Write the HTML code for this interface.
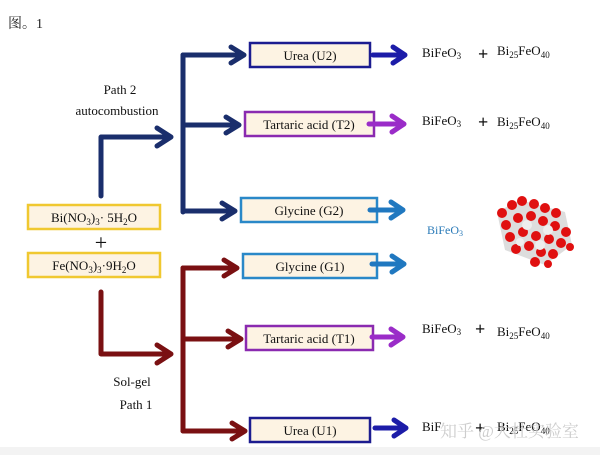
<!DOCTYPE html>
<html><head><meta charset="utf-8"><style>
html,body{margin:0;padding:0;background:#fff;}
svg{display:block;}
text{font-family:"Liberation Serif","Noto Serif CJK SC",serif;}
</style></head><body>
<svg width="600" height="455" viewBox="0 0 600 455" xmlns="http://www.w3.org/2000/svg">
<rect x="0" y="0" width="600" height="455" fill="#fff"/>
<rect x="0" y="447" width="600" height="8" fill="#f3f3f3"/>
<text x="8" y="28" font-size="14" fill="#222" font-family="Liberation Serif,Noto Serif CJK SC,serif">图。1</text>

<!-- source boxes -->
<rect x="28" y="205" width="132" height="24" fill="#fdf3e3" stroke="#f0c830" stroke-width="2.5"/>
<text x="94" y="222" font-size="13" text-anchor="middle" fill="#111">Bi(NO<tspan font-size="9" dy="3">3</tspan><tspan dy="-3">)</tspan><tspan font-size="9" dy="3">3</tspan><tspan dy="-3">· 5H</tspan><tspan font-size="9" dy="3">2</tspan><tspan dy="-3">O</tspan></text>
<text x="101" y="250" font-size="22" text-anchor="middle" fill="#111" font-family="Liberation Sans,sans-serif">+</text>
<rect x="28" y="253" width="132" height="24" fill="#fdf3e3" stroke="#f0c830" stroke-width="2.5"/>
<text x="94" y="270" font-size="13" text-anchor="middle" fill="#111">Fe(NO<tspan font-size="9" dy="3">3</tspan><tspan dy="-3">)</tspan><tspan font-size="9" dy="3">3</tspan><tspan dy="-3">·9H</tspan><tspan font-size="9" dy="3">2</tspan><tspan dy="-3">O</tspan></text>

<!-- blue path -->
<g stroke="#1a2e6c" stroke-width="5" fill="none" stroke-linejoin="round" stroke-linecap="round">
<polyline points="101,196 101,137 170,137"/>
<polyline points="157,128 171,137 157,146"/>
<line x1="183" y1="55" x2="183" y2="212"/>
<line x1="183" y1="55" x2="243" y2="55"/>
<polyline points="231,47 244,55 231,63"/>
<line x1="183" y1="125" x2="238" y2="125"/>
<polyline points="226,117 239,125 226,133"/>
<line x1="183" y1="211" x2="234" y2="211"/>
<polyline points="222,203 235,211 222,219"/>
</g>
<!-- red path -->
<g stroke="#7a1012" stroke-width="5" fill="none" stroke-linejoin="round" stroke-linecap="round">
<polyline points="101,292 101,354 170,354"/>
<polyline points="157,345 171,354 157,363"/>
<line x1="183" y1="268" x2="183" y2="431"/>
<line x1="183" y1="268" x2="236" y2="268"/>
<polyline points="224,260 237,268 224,276"/>
<line x1="183" y1="339" x2="240" y2="339"/>
<polyline points="228,331 241,339 228,347"/>
<line x1="183" y1="431" x2="244" y2="431"/>
<polyline points="232,423 245,431 232,439"/>
</g>

<text x="120" y="94" font-size="13" text-anchor="middle" fill="#111">Path 2</text>
<text x="117" y="115" font-size="13" text-anchor="middle" fill="#111">autocombustion</text>
<text x="132" y="386" font-size="13" text-anchor="middle" fill="#111">Sol-gel</text>
<text x="136" y="409" font-size="13" text-anchor="middle" fill="#111">Path 1</text>

<!-- middle boxes -->
<g font-size="13" fill="#111" text-anchor="middle">
<rect x="250" y="43" width="120" height="24" fill="#fdf3e3" stroke="#1c1c90" stroke-width="2.5"/>
<text x="310" y="60">Urea (U2)</text>
<rect x="245" y="112" width="129" height="24" fill="#fdf3e3" stroke="#8a2ab0" stroke-width="2.5"/>
<text x="309" y="129">Tartaric acid (T2)</text>
<rect x="241" y="198" width="136" height="24" fill="#fdf3e3" stroke="#2a88c8" stroke-width="2.5"/>
<text x="309" y="215">Glycine (G2)</text>
<rect x="243" y="254" width="134" height="24" fill="#fdf3e3" stroke="#2a88c8" stroke-width="2.5"/>
<text x="310" y="271">Glycine (G1)</text>
<rect x="246" y="326" width="127" height="24" fill="#fdf3e3" stroke="#8a2ab0" stroke-width="2.5"/>
<text x="309" y="343">Tartaric acid (T1)</text>
<rect x="250" y="418" width="120" height="24" fill="#fdf3e3" stroke="#1c1c90" stroke-width="2.5"/>
<text x="310" y="435">Urea (U1)</text>
</g>

<!-- right arrows -->
<g stroke-width="5" fill="none" stroke-linejoin="round" stroke-linecap="round">
<g stroke="#1c1ca8"><line x1="373" y1="55" x2="404" y2="55"/><polyline points="393,47 405,55 393,63"/></g>
<g stroke="#9a2cc8"><line x1="369" y1="124" x2="403" y2="124"/><polyline points="392,116 404,124 392,132"/></g>
<g stroke="#2078c0"><line x1="370" y1="210" x2="402" y2="210"/><polyline points="391,202 403,210 391,218"/></g>
<g stroke="#2078c0"><line x1="372" y1="264" x2="403" y2="264"/><polyline points="392,256 404,264 392,272"/></g>
<g stroke="#9a2cc8"><line x1="372" y1="337" x2="402" y2="337"/><polyline points="391,329 403,337 391,345"/></g>
<g stroke="#1c1ca8"><line x1="375" y1="428" x2="405" y2="428"/><polyline points="394,420 406,428 394,436"/></g>
</g>

<!-- products -->
<g font-size="13" fill="#111">
<text x="422" y="57">BiFeO<tspan font-size="9" dy="2">3</tspan></text>
<text x="478" y="60" font-size="18" font-family="Liberation Sans,sans-serif" font-weight="bold">+</text>
<text x="497" y="55">Bi<tspan font-size="9" dy="3">25</tspan><tspan dy="-3">FeO</tspan><tspan font-size="9" dy="3">40</tspan></text>
<text x="422" y="125">BiFeO<tspan font-size="9" dy="2">3</tspan></text>
<text x="478" y="128" font-size="18" font-family="Liberation Sans,sans-serif" font-weight="bold">+</text>
<text x="497" y="126">Bi<tspan font-size="9" dy="3">25</tspan><tspan dy="-3">FeO</tspan><tspan font-size="9" dy="3">40</tspan></text>
<text x="422" y="333">BiFeO<tspan font-size="9" dy="2">3</tspan></text>
<text x="475" y="335" font-size="18" font-family="Liberation Sans,sans-serif" font-weight="bold">+</text>
<text x="497" y="336">Bi<tspan font-size="9" dy="3">25</tspan><tspan dy="-3">FeO</tspan><tspan font-size="9" dy="3">40</tspan></text>
<text x="422" y="431">BiF</text>
<text x="475" y="434" font-size="18" font-family="Liberation Sans,sans-serif" font-weight="bold">+</text>
<text x="497" y="431">Bi<tspan font-size="9" dy="3">25</tspan><tspan dy="-3">FeO</tspan><tspan font-size="9" dy="3">40</tspan></text>
</g>
<text x="427" y="234" font-size="12" fill="#2a7ab8">BiFeO<tspan font-size="8" dy="2">3</tspan></text>

<!-- crystal -->
<g>
<polygon points="497,212 520,200 565,212 572,245 545,265 505,250" fill="#ddd"/>
<g fill="#e01010">
<circle cx="502" cy="213" r="5"/><circle cx="512" cy="205" r="5"/><circle cx="522" cy="201" r="5"/><circle cx="534" cy="204" r="5"/><circle cx="545" cy="208" r="5"/><circle cx="556" cy="213" r="5"/>
<circle cx="506" cy="225" r="5"/><circle cx="518" cy="218" r="5"/><circle cx="531" cy="216" r="5"/><circle cx="543" cy="221" r="5"/><circle cx="555" cy="226" r="5"/><circle cx="566" cy="232" r="5"/>
<circle cx="510" cy="237" r="5"/><circle cx="523" cy="232" r="5"/><circle cx="536" cy="236" r="5"/><circle cx="549" cy="239" r="5"/><circle cx="561" cy="243" r="5"/><circle cx="570" cy="247" r="4"/>
<circle cx="516" cy="249" r="5"/><circle cx="529" cy="246" r="5"/><circle cx="541" cy="252" r="5"/><circle cx="553" cy="254" r="5"/><circle cx="535" cy="262" r="5"/><circle cx="548" cy="264" r="4"/>
</g>
<g fill="#eee"><circle cx="527" cy="225" r="5"/><circle cx="548" cy="230" r="5"/><circle cx="540" cy="245" r="5"/><circle cx="520" cy="242" r="4"/></g>
</g>

<text x="440" y="437" font-size="17" fill="#c8c8c8" fill-opacity="0.9" font-family="Liberation Sans,Noto Sans CJK SC,sans-serif">知乎 @大杜实验室</text>
</svg>
</body></html>
